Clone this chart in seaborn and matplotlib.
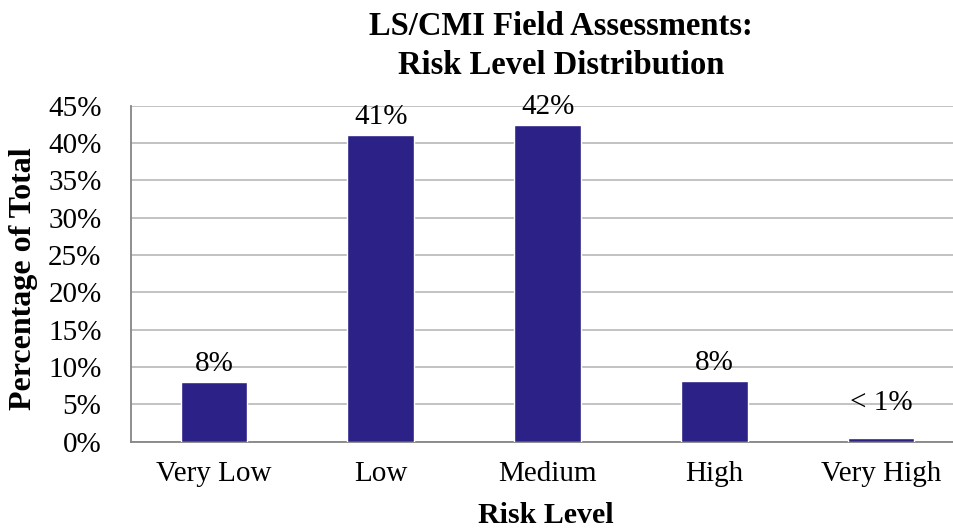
import matplotlib
matplotlib.use("Agg")
import matplotlib.pyplot as plt
import seaborn as sns
import pandas as pd
from matplotlib.ticker import MultipleLocator, FuncFormatter, FixedLocator

# Risk level distribution of LS/CMI field assessments
risk_levels = ["Very Low", "Low", "Medium", "High", "Very High"]
percent_of_total = [8.0, 41.1, 42.4, 8.1, 0.5]
value_labels = ["8%", "41%", "42%", "8%", "< 1%"]

df = pd.DataFrame({"Risk Level": risk_levels, "Percent": percent_of_total})

sns.set_theme(style="white")
plt.rcParams["font.family"] = ["Liberation Serif", "DejaVu Serif"]

W, H = 954, 531
fig = plt.figure(figsize=(W / 100, H / 100), dpi=100)
ax_left, ax_right, ax_top, ax_bottom = 130.7, 964.5, 105.7, 441.5
ax = fig.add_axes([ax_left / W, 1 - ax_bottom / H,
                   (ax_right - ax_left) / W, (ax_bottom - ax_top) / H])

bar_color = "#2B2187"
sns.barplot(data=df, x="Risk Level", y="Percent", color=bar_color,
            width=0.4, saturation=1, ax=ax, zorder=3)

ax.set_xlim(-0.5, len(risk_levels) - 0.5)
ax.set_ylim(0, 45)
ax.yaxis.set_major_locator(MultipleLocator(5))
ax.yaxis.set_major_formatter(FuncFormatter(lambda v, _: f"{v:.0f}%"))
ax.grid(axis="y", color="#bdbdbd", linewidth=1.3, zorder=0)
ax.grid(axis="x", visible=False)

axis_gray = "#868686"
for side in ["top", "right"]:
    ax.spines[side].set_visible(False)
for side in ["left", "bottom"]:
    ax.spines[side].set_color(axis_gray)
    ax.spines[side].set_linewidth(1.3)

# x tick marks sit on the category boundaries
ax.xaxis.set_minor_locator(FixedLocator([i - 0.5 for i in range(len(risk_levels) + 1)]))
ax.tick_params(axis="x", which="major", length=0, labelsize=21, pad=14, labelcolor="black")
ax.tick_params(axis="x", which="minor", length=7, width=1.3, color=axis_gray, direction="out")
ax.tick_params(axis="y", which="major", length=6.5, width=1.3, color=axis_gray,
               direction="out", labelsize=21, pad=14.5, labelcolor="black")

ax_w, ax_h = ax_right - ax_left, ax_bottom - ax_top
ax.set_xlabel("Risk Level", fontsize=21.5, fontweight="bold", color="black", va="baseline")
ax.xaxis.set_label_coords((546 - ax_left) / ax_w, (ax_bottom - 523) / ax_h)
ax.set_ylabel("Percentage of Total", fontsize=23, fontweight="bold", color="black",
              va="center")
ax.yaxis.set_label_coords((24 - ax_left) / ax_w, (ax_bottom - 279) / ax_h)

label_offsets = [8, 8, 8, 8, 20]
for i, (val, txt) in enumerate(zip(percent_of_total, value_labels)):
    ax.annotate(txt, xy=(i, val), xytext=(0, label_offsets[i]), textcoords="offset points",
                ha="center", va="baseline", fontsize=21, color="black")

title_lines = ["LS/CMI Field Assessments:", "Risk Level Distribution"]
for line, baseline in zip(title_lines, [35, 74]):
    fig.text(561 / W, 1 - baseline / H, line, ha="center", va="baseline",
             fontsize=23.5, fontweight="bold", color="black")

fig.savefig("out.png", dpi=100)
